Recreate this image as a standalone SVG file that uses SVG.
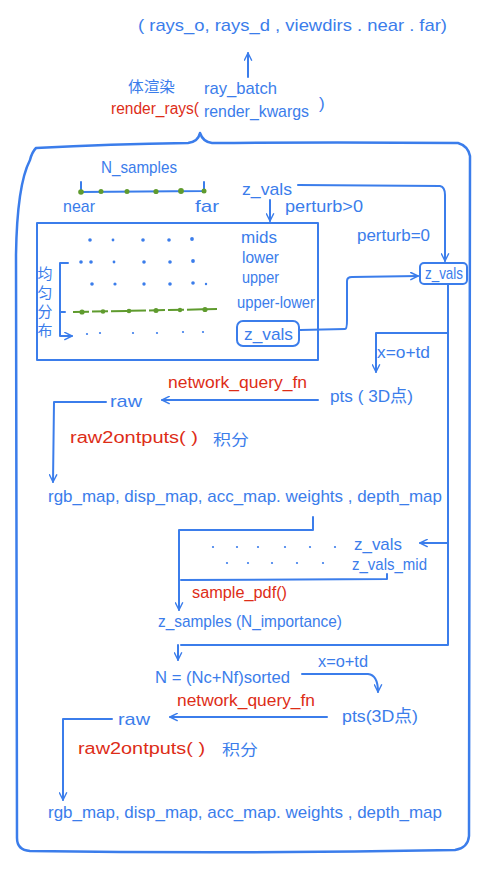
<svg xmlns="http://www.w3.org/2000/svg" width="487" height="869" viewBox="0 0 487 869">
<style>
.b{fill:#3b7deb;font-family:"Liberation Sans","Noto Sans CJK SC",sans-serif;font-size:17px}
.r{fill:#dd2d17;font-family:"Liberation Sans","Noto Sans CJK SC",sans-serif;font-size:16px}
.cn{fill:#3b7deb;font-family:"Noto Sans CJK SC",sans-serif;font-size:15px}
.ln{fill:none;stroke:#3b7deb;stroke-width:2;stroke-linecap:round;stroke-linejoin:round}
.bd{fill:none;stroke:#3b7deb;stroke-width:2.5;stroke-linecap:round;stroke-linejoin:round}
.gd{fill:#5f9b2e}
.bdot{fill:#3b7deb}
</style>
<defs>
<marker id="ah" viewBox="0 0 10 10" refX="9" refY="5" markerWidth="9" markerHeight="9" markerUnits="userSpaceOnUse" orient="auto">
<path d="M1,1 L9,5 L1,9" fill="none" stroke="#3b7deb" stroke-width="1.6" stroke-linecap="round" stroke-linejoin="round"/>
</marker>
</defs>

<rect width="487" height="869" fill="#ffffff"/>

<g id="border">
<path class="bd" d="M36,148 Q110,144 188,143 Q198,142 200,133 Q203,142 212,143 Q340,142 458,143 Q468,146 470,156 L469,836 Q468,848 455,850 Q240,854 30,851 Q17,850 17,838 L16,255 Q17,185 30,160 Q32,152 36,148"/>
</g>

<g id="inputs">
<text class="b" x="138" y="31" font-size="18" textLength="309" lengthAdjust="spacingAndGlyphs">( rays_o, rays_d , viewdirs . near . far)</text>
</g>

<g id="render_rays">
<text class="cn" x="128" y="92" textLength="47" lengthAdjust="spacingAndGlyphs">体渲染</text>
<text class="b" x="204" y="94" font-size="16" textLength="73" lengthAdjust="spacingAndGlyphs">ray_batch</text>
<text class="r" x="111" y="114" font-size="17" textLength="88" lengthAdjust="spacingAndGlyphs">render_rays(</text>
<text class="b" x="204" y="117" font-size="17" textLength="105" lengthAdjust="spacingAndGlyphs">render_kwargs</text>
<text class="b" x="319" y="109" font-size="16">)</text>
</g>

<g id="n_samples">
<text class="b" x="101" y="173" font-size="16" textLength="76" lengthAdjust="spacingAndGlyphs">N_samples</text>
<path class="ln" d="M81,182 L81,192 L204,191 M204,182 L204,191"/>
<circle class="gd" cx="81" cy="192" r="2.8"/>
<circle class="gd" cx="101" cy="191.5" r="2.5"/>
<circle class="gd" cx="127" cy="191.5" r="2.5"/>
<circle class="gd" cx="156" cy="191.5" r="2.6"/>
<circle class="gd" cx="181" cy="191" r="2.9"/>
<circle class="gd" cx="204" cy="191" r="2.5"/>
<text class="b" x="63" y="212" font-size="16" textLength="32" lengthAdjust="spacingAndGlyphs">near</text>
<text class="b" x="195" y="212" font-size="16" textLength="24" lengthAdjust="spacingAndGlyphs">far</text>
</g>

<g id="z_vals_top">
<text class="b" x="242" y="195" font-size="17" textLength="50" lengthAdjust="spacingAndGlyphs">z_vals</text>
<text class="b" x="285" y="212" font-size="16" textLength="78" lengthAdjust="spacingAndGlyphs">perturb&gt;0</text>
<text class="b" x="357" y="241" font-size="15" textLength="73" lengthAdjust="spacingAndGlyphs">perturb=0</text>
</g>

<g id="perturb_box">
<rect class="ln" x="37" y="223" width="281" height="137"/>
<g class="bdot">
<circle cx="90" cy="240" r="1.8"/><circle cx="113" cy="240" r="1.4"/><circle cx="143" cy="240" r="1.8"/><circle cx="169" cy="240" r="1.8"/><circle cx="192" cy="239" r="1.9"/>
<circle cx="81" cy="262" r="1.8"/><circle cx="91" cy="262" r="1.8"/><circle cx="114" cy="262" r="1.4"/><circle cx="144" cy="262" r="1.8"/><circle cx="170" cy="262" r="1.8"/><circle cx="193" cy="261" r="1.9"/>
<circle cx="92" cy="284" r="1.8"/><circle cx="115" cy="284" r="1.6"/><circle cx="144" cy="284" r="1.7"/><circle cx="170" cy="284" r="1.8"/><circle cx="193" cy="283" r="1.8"/><circle cx="206" cy="284" r="1.2"/>
<circle cx="87" cy="334" r="1.1"/><circle cx="100" cy="333" r="1.1"/><circle cx="133" cy="333" r="1.1"/><circle cx="157" cy="333" r="1.1"/><circle cx="183" cy="332" r="1.1"/><circle cx="203" cy="332" r="1.1"/>
</g>
<path d="M73,312 L217,309" fill="none" stroke="#5f9b2e" stroke-width="2" stroke-dasharray="16,3"/>
<circle class="gd" cx="82" cy="312" r="2.6"/><circle class="gd" cx="103" cy="311.5" r="2.3"/><circle class="gd" cx="129" cy="311" r="2.3"/><circle class="gd" cx="156" cy="310.5" r="2.5"/><circle class="gd" cx="180" cy="310" r="2.2"/><circle class="gd" cx="205" cy="309.5" r="2.6"/>
<text class="b" x="241" y="243" font-size="16" textLength="36" lengthAdjust="spacingAndGlyphs">mids</text>
<text class="b" x="242" y="263" font-size="16" textLength="37" lengthAdjust="spacingAndGlyphs">lower</text>
<text class="b" x="242" y="283" font-size="16" textLength="37" lengthAdjust="spacingAndGlyphs">upper</text>
<text class="b" x="237" y="308" font-size="16" textLength="78" lengthAdjust="spacingAndGlyphs">upper-lower</text>
<rect class="ln" x="237" y="321" width="62" height="25" rx="6"/>
<text class="b" x="244" y="340" font-size="17" textLength="49" lengthAdjust="spacingAndGlyphs">z_vals</text>
<text class="cn" x="45" y="266" font-size="13" letter-spacing="4" style="writing-mode:vertical-rl">均匀分布</text>
</g>

<g id="z_vals_right">
<rect class="ln" x="420" y="263" width="47" height="21" rx="4"/>
<text class="b" x="425" y="279" font-size="15" textLength="38" lengthAdjust="spacingAndGlyphs">z_vals</text>
</g>

<g id="pts1">
<text class="b" x="377" y="358" font-size="14" textLength="53" lengthAdjust="spacingAndGlyphs">x=o+td</text>
<text class="b" x="330" y="402" font-size="18" textLength="83" lengthAdjust="spacingAndGlyphs">pts ( 3D点)</text>
<text class="r" x="168" y="388" font-size="16" textLength="139" lengthAdjust="spacingAndGlyphs">network_query_fn</text>
</g>

<g id="raw1">
<text class="b" x="110" y="407" font-size="18" textLength="32" lengthAdjust="spacingAndGlyphs">raw</text>
<text class="r" x="70" y="443" font-size="17" textLength="128" lengthAdjust="spacingAndGlyphs">raw2ontputs( )</text>
<text class="cn" x="213" y="445" font-size="17" textLength="36" lengthAdjust="spacingAndGlyphs">积分</text>
</g>

<g id="outputs1">
<text class="b" x="48" y="502" font-size="18" textLength="394" lengthAdjust="spacingAndGlyphs">rgb_map, disp_map, acc_map. weights , depth_map</text>
</g>

<g id="sample_pdf">
<g class="bdot">
<circle cx="213" cy="547" r="1.1"/><circle cx="237" cy="547" r="1.1"/><circle cx="258" cy="547" r="1.1"/><circle cx="285" cy="547" r="1.1"/><circle cx="310" cy="547" r="1.1"/><circle cx="335" cy="547" r="1.1"/>
<circle cx="227" cy="563" r="1.1"/><circle cx="248" cy="563" r="1.1"/><circle cx="272" cy="563" r="1.1"/><circle cx="297" cy="563" r="1.1"/><circle cx="323" cy="563" r="1.1"/>
</g>
<text class="b" x="354" y="550" font-size="16" textLength="48" lengthAdjust="spacingAndGlyphs">z_vals</text>
<text class="b" x="352" y="570" font-size="16" textLength="75" lengthAdjust="spacingAndGlyphs">z_vals_mid</text>
<text class="r" x="192" y="598" font-size="16" textLength="95" lengthAdjust="spacingAndGlyphs">sample_pdf()</text>
</g>

<g id="z_samples">
<text class="b" x="158" y="627" font-size="15" textLength="184" lengthAdjust="spacingAndGlyphs">z_samples  (N_importance)</text>
</g>

<g id="n_sorted">
<text class="b" x="155" y="683" font-size="17" textLength="135" lengthAdjust="spacingAndGlyphs">N = (Nc+Nf)sorted</text>
<text class="b" x="318" y="667" font-size="13" textLength="50" lengthAdjust="spacingAndGlyphs">x=o+td</text>
</g>

<g id="pts2">
<text class="b" x="342" y="722" font-size="17" textLength="76" lengthAdjust="spacingAndGlyphs">pts(3D点)</text>
<text class="r" x="177" y="706" font-size="16" textLength="138" lengthAdjust="spacingAndGlyphs">network_query_fn</text>
</g>

<g id="raw2">
<text class="b" x="118" y="725" font-size="18" textLength="32" lengthAdjust="spacingAndGlyphs">raw</text>
<text class="r" x="78" y="754" font-size="17" textLength="127" lengthAdjust="spacingAndGlyphs">raw2ontputs( )</text>
<text class="cn" x="222" y="755" font-size="17" textLength="36" lengthAdjust="spacingAndGlyphs">积分</text>
</g>

<g id="outputs2">
<text class="b" x="48" y="818" font-size="18" textLength="394" lengthAdjust="spacingAndGlyphs">rgb_map, disp_map, acc_map. weights , depth_map</text>
</g>

<g id="connectors">
<path class="ln" d="M248,77 L248,53" marker-end="url(#ah)"/>
<path class="ln" d="M270,200 L270,221" marker-end="url(#ah)"/>
<path class="ln" d="M298,185 L440,186 Q445,187 445,195 L445,261" marker-end="url(#ah)"/>
<path class="ln" d="M68,263 L60,263 L60,336 L72,336" marker-end="url(#ah)"/>
<path class="ln" d="M60,312 L65,312"/>
<path class="ln" d="M300,330 L345,329 Q347,329 347,320 L347,281 Q347,277 352,277 L418,276" marker-end="url(#ah)"/>
<path class="ln" d="M448,284 L448,645 L181,645"/>
<path class="ln" d="M448,333 L376,333 L376,372" marker-end="url(#ah)"/>
<path class="ln" d="M318,400 L162,400" marker-end="url(#ah)"/>
<path class="ln" d="M106,402 L54,402 L53,482" marker-end="url(#ah)"/>
<path class="ln" d="M313,517 L313,530 L179,530 L179,610" marker-end="url(#ah)"/>
<path class="ln" d="M448,543 L420,543" marker-end="url(#ah)"/>
<path class="ln" d="M181,580 L387,579 L387,574"/>
<path class="ln" d="M178,645 L178,660" marker-end="url(#ah)"/>
<path class="ln" d="M302,674 L368,674 Q378,675 378,692" marker-end="url(#ah)"/>
<path class="ln" d="M327,717 L170,717" marker-end="url(#ah)"/>
<path class="ln" d="M112,719 L63,719 L63,800" marker-end="url(#ah)"/>
</g>
</svg>
